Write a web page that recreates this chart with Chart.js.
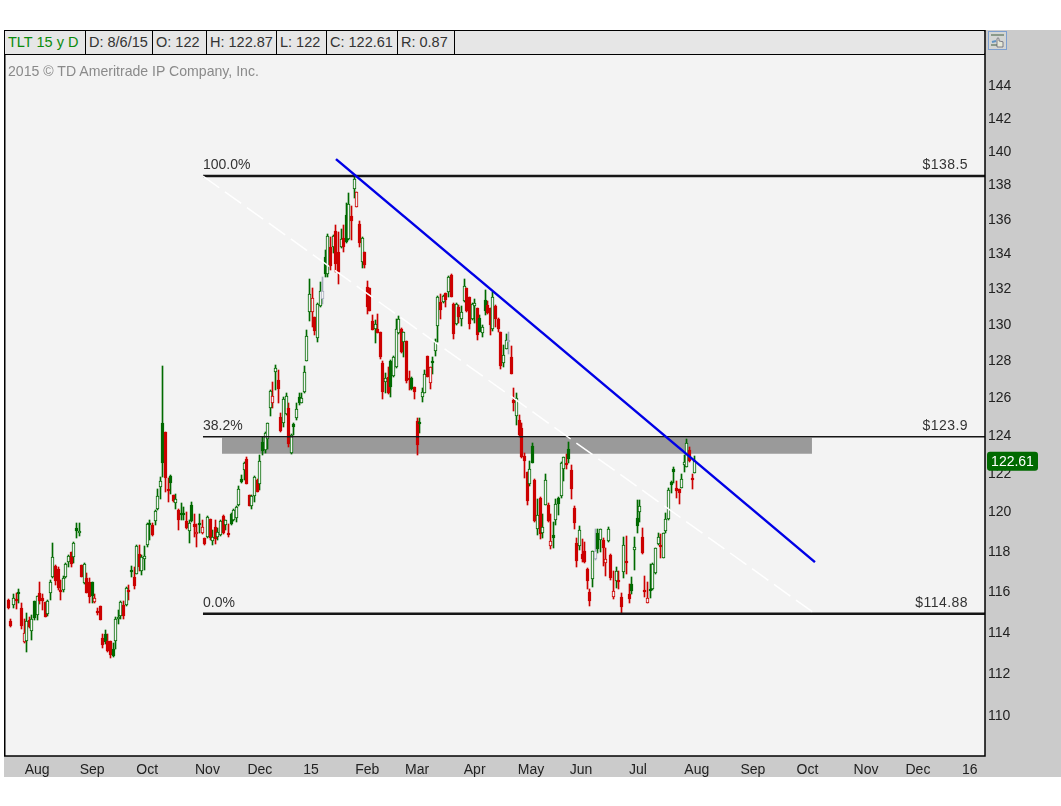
<!DOCTYPE html>
<html>
<head>
<meta charset="utf-8">
<title>TLT</title>
<script src="https://cdn.jsdelivr.net/npm/chart.js@4"></script>
<style>
  html, body { margin: 0; padding: 0; background: #fff; }
  body { width: 1061px; height: 806px; position: relative; overflow: hidden; font-family: "Liberation Sans", Arial, sans-serif; }
  #tlt-chart { position: absolute; left: 0; top: 0; }
  .quote-bar { position: absolute; left: 5px; top: 31px; width: 979px; height: 23px; background: #e6e6e6; display: flex; font-size: 14.5px; line-height: 23px; color: #333; }
  .quote-bar span { border-right: 1px solid #000; padding-left: 3px; box-sizing: border-box; white-space: nowrap; }
  .quote-bar .sym { color: #0a8a0a; }
  .copyright { position: absolute; left: 8px; top: 63px; font-size: 14.1px; color: #8a8a8a; }
  .hand-btn { position: absolute; left: 988px; top: 31px; width: 19px; height: 19px; }
</style>
</head>
<body>
<canvas id="tlt-chart" width="1061" height="806"></canvas>
<div class="quote-bar">
  <span class="sym" style="width:81px">TLT 15 y D</span>
  <span style="width:67px">D: 8/6/15</span>
  <span style="width:54px">O: 122</span>
  <span style="width:70px">H: 122.87</span>
  <span style="width:50px">L: 122</span>
  <span style="width:71px">C: 122.61</span>
  <span style="width:57px">R: 0.87</span>
</div>
<div class="copyright">2015 © TD Ameritrade IP Company, Inc.</div>
<svg class="hand-btn" viewBox="0 0 19 19">
  <rect x="0.5" y="0.5" width="18" height="18" fill="#d4d6d4" stroke="#7d9fcf"/>
  <path d="M3 4h13M3 14h6" stroke="#8a9a8a" stroke-width="2"/>
  <path d="M4 11l4-1" stroke="#5f93c4" stroke-width="2"/>
  <path d="M9 15V7.5q1-1.500 2 0V10l4 .8V16H9z" fill="#e6e8d8" stroke="#556"  stroke-width="0.7"/>
</svg>
<script>
// daily bars, oldest first
const opens = [
  115.54,114.51,115.30,115.59,115.93,115.15,113.48,113.55,114.56,114.03,
  115.49,114.80,115.92,115.67,115.43,114.85,115.92,116.70,117.25,117.09,
  116.07,116.03,116.70,117.44,117.94,117.71,119.14,118.92,117.29,116.40,
  116.62,116.42,116.43,115.46,115.00,115.28,113.69,113.87,113.55,113.55,
  113.18,113.55,114.61,114.75,115.30,115.31,116.04,117.04,116.67,116.85,
  117.84,117.00,117.61,118.31,119.44,119.31,119.53,120.14,121.28,124.61,
  124.15,121.19,121.82,120.85,120.45,120.07,119.95,119.95,119.51,118.99,
  120.33,119.36,118.89,119.42,118.89,118.63,118.70,119.61,118.50,119.19,
  118.72,118.82,119.80,119.32,118.90,119.90,119.56,119.66,120.35,121.66,
  122.13,122.73,120.85,120.29,120.80,121.62,121.45,123.63,123.20,123.80,
  125.45,125.68,127.39,126.94,124.96,124.61,125.09,125.46,123.05,124.57,
  124.89,126.00,125.71,126.31,127.99,130.70,130.70,130.38,129.22,131.04,
  131.43,133.77,132.82,134.35,134.35,135.29,134.06,134.35,134.87,136.21,
  134.83,136.16,137.76,136.70,135.67,133.53,134.06,132.07,132.01,130.16,
  129.72,129.74,129.55,127.85,126.85,127.09,127.99,127.18,127.66,129.50,
  129.72,129.04,129.07,127.03,127.03,126.54,124.74,124.70,126.00,126.25,
  128.25,126.76,128.00,128.54,129.91,131.24,131.24,131.77,131.82,132.79,
  131.11,130.01,130.98,130.27,131.32,132.01,131.50,130.27,131.04,130.93,
  130.33,129.53,131.34,131.08,130.89,129.72,131.04,130.29,129.59,127.85,
  128.63,129.14,128.17,125.86,125.02,124.79,124.35,122.89,122.06,121.42,
  123.41,121.63,119.12,120.68,118.92,120.35,120.33,118.26,118.79,119.56,
  120.71,120.80,122.18,122.52,123.24,122.15,120.19,118.38,118.24,117.84,
  117.99,117.09,115.93,116.57,117.57,118.89,118.55,118.55,117.37,118.51,
  117.82,115.70,116.50,116.55,115.70,116.95,117.48,115.84,116.33,118.07,
  119.65,120.00,118.73,116.05,115.38,116.08,116.10,116.87,118.35,118.28,
  117.67,119.02,119.60,121.52,122.18,121.20,121.16,121.23,122.44,122.32,123.20,121.76,122.00
];
const closes = [
  115.15,114.28,115.67,115.51,115.85,114.28,113.95,114.54,114.21,114.64,
  114.67,115.77,115.49,115.49,114.72,115.51,116.43,117.72,116.50,116.13,
  115.98,116.62,117.32,117.74,117.34,118.40,118.99,119.02,116.69,117.35,
  115.92,115.70,115.77,115.67,114.90,114.56,113.35,113.50,113.06,112.85,
  112.82,114.61,114.72,115.43,114.77,116.15,116.00,116.92,116.23,118.24,
  117.20,117.71,117.77,119.39,119.36,118.82,120.05,120.78,121.60,122.53,
  121.74,121.07,121.49,120.54,120.67,119.56,119.90,119.88,119.17,119.44,
  119.53,119.22,118.97,119.31,119.19,118.34,119.75,118.63,118.72,118.61,
  118.94,119.50,118.89,119.56,118.80,119.39,120.10,120.22,121.19,121.53,
  122.50,121.45,120.29,120.80,121.80,121.01,122.60,123.16,124.11,124.61,
  126.34,126.07,127.62,126.47,124.21,125.89,126.07,123.51,123.98,124.43,
  125.36,125.68,125.95,127.37,129.35,131.67,131.45,129.61,131.13,131.86,
  131.84,132.82,134.98,133.28,134.98,133.41,132.96,134.81,134.37,134.67,
  136.84,135.88,138.31,137.54,134.62,134.87,133.36,130.98,130.76,129.68,
  130.00,129.53,128.21,126.27,127.03,126.22,126.54,128.21,129.72,130.29,
  128.49,129.55,126.90,126.94,126.43,126.31,123.46,124.66,126.31,127.25,
  127.12,127.63,127.95,129.04,131.54,130.80,131.58,131.36,132.67,131.50,
  129.46,131.11,130.39,130.70,132.16,130.76,130.01,131.13,131.17,129.41,
  129.59,129.83,130.76,130.61,129.95,131.50,130.29,129.72,127.70,128.28,
  129.13,129.10,127.26,125.72,125.95,123.99,122.85,122.64,120.56,122.18,
  122.53,119.51,119.85,118.86,119.19,121.63,119.51,118.50,118.67,120.38,
  120.40,122.50,122.81,122.48,122.71,121.15,119.43,117.49,119.04,117.61,
  117.45,116.48,115.49,117.99,117.99,118.11,119.09,118.13,117.59,119.11,
  116.65,115.98,116.99,116.50,115.21,118.28,117.43,115.61,116.00,118.18,
  119.28,120.31,117.90,116.00,115.66,116.00,117.32,118.13,118.72,118.23,
  118.89,119.60,121.09,121.38,122.06,121.08,120.94,121.66,122.55,123.55,122.64,121.63,122.61
];
const highs = [
  115.62,114.61,115.87,115.92,116.08,115.38,114.64,114.89,114.72,114.80,
  115.49,115.77,116.42,115.87,115.43,115.54,116.54,118.40,117.30,117.20,
  116.54,116.74,117.37,117.79,117.97,118.46,119.42,119.44,117.29,117.39,
  116.87,116.62,116.43,115.87,115.18,115.28,113.90,114.07,113.90,113.55,
  113.47,114.72,115.05,115.48,115.49,116.20,116.28,117.24,117.17,118.29,
  118.29,117.79,118.24,119.44,119.59,119.44,120.10,121.19,121.80,127.70,
  124.15,121.74,121.88,120.85,120.93,120.16,120.42,120.24,119.98,119.56,
  120.50,119.86,119.39,119.90,119.56,118.67,119.76,119.61,119.05,119.56,
  119.14,119.56,119.83,119.59,119.39,119.95,120.16,120.28,121.31,121.88,
  122.59,122.81,120.88,120.85,121.83,121.66,122.94,123.90,124.17,124.65,
  126.40,126.85,127.75,127.48,125.14,126.04,126.22,125.68,124.07,124.61,
  125.68,126.22,126.22,127.70,129.68,132.52,132.01,130.42,131.17,132.35,
  132.67,134.19,135.12,134.96,135.06,135.63,135.25,135.38,135.63,136.90,
  137.48,136.74,138.57,137.58,135.86,134.92,134.10,132.43,132.01,130.52,
  130.24,130.57,129.55,127.97,127.30,127.66,128.03,128.25,130.27,130.46,
  129.77,129.59,129.07,127.43,127.12,126.54,124.88,124.88,126.49,127.48,
  128.25,127.67,128.18,129.17,131.58,131.67,131.63,131.77,132.73,132.85,
  131.17,131.17,131.08,131.02,132.54,132.01,131.50,131.17,131.39,130.93,
  130.52,129.99,131.92,131.32,130.89,131.82,131.08,130.33,129.59,128.85,
  129.46,129.59,128.80,126.49,126.22,125.06,124.61,123.03,122.06,122.62,
  123.59,121.68,120.63,120.73,119.87,121.92,120.42,119.87,119.46,120.63,
  120.76,122.55,122.85,123.01,123.62,122.41,120.28,118.63,119.29,118.58,
  118.46,117.12,116.12,117.99,119.11,119.11,119.11,118.63,118.13,119.23,
  117.87,116.99,117.20,116.99,115.90,118.72,118.75,116.37,116.67,118.72,
  120.59,120.59,119.17,116.72,116.45,117.34,117.37,118.16,118.89,118.84,
  118.92,119.91,121.20,121.59,122.29,121.58,121.16,121.97,122.94,123.78,123.34,121.92,122.87
];
const lows = [
  115.13,114.23,115.18,115.10,115.41,114.13,113.45,113.00,114.18,113.61,
  114.59,114.59,115.36,115.05,114.72,114.75,115.54,116.64,116.28,116.07,
  115.54,115.97,116.62,117.20,117.20,117.41,118.67,118.75,116.69,116.37,
  115.90,115.41,115.41,115.41,114.80,114.56,113.21,113.42,113.03,112.74,
  112.79,113.16,114.39,114.64,114.64,115.26,115.57,116.67,116.10,116.82,
  117.00,116.79,117.04,118.18,118.55,118.75,119.31,120.10,120.66,121.80,
  121.01,120.50,120.90,120.50,120.16,119.05,119.56,119.56,119.09,118.41,
  119.48,118.72,118.21,118.89,118.85,118.29,118.63,118.55,118.29,118.34,
  118.55,118.77,118.85,119.05,118.72,119.31,119.53,119.48,120.29,121.48,
  121.62,121.42,120.28,120.16,120.52,121.00,121.11,122.94,123.02,123.27,
  125.00,125.41,126.40,125.71,124.16,124.43,125.05,123.37,122.98,123.98,
  124.79,125.59,125.68,126.22,127.97,130.20,129.86,129.41,129.04,130.98,
  131.13,132.67,132.67,133.05,134.00,132.96,132.26,134.29,134.10,134.58,
  134.77,134.77,137.23,136.70,134.35,133.15,133.15,130.57,130.76,129.68,
  128.98,129.50,128.08,125.93,126.22,126.16,126.00,127.12,127.62,129.46,
  128.39,128.21,126.79,126.40,126.40,125.93,122.94,124.11,125.77,126.22,
  127.09,126.47,127.26,128.25,129.04,130.29,131.17,130.98,131.50,131.50,
  129.18,129.95,130.05,129.92,131.26,130.70,129.74,130.24,130.05,129.13,
  129.55,129.31,130.52,130.57,129.41,129.64,129.86,129.59,127.52,127.63,
  128.62,128.36,127.26,125.29,124.52,123.90,122.77,121.72,120.33,121.32,
  122.50,119.48,118.80,118.60,118.67,120.33,119.48,118.11,118.16,119.31,
  119.82,120.68,121.58,122.18,122.54,120.64,119.12,117.21,118.07,117.45,
  117.37,116.08,115.25,116.20,117.54,117.91,117.96,117.25,116.75,118.46,
  116.54,115.62,116.15,116.12,114.89,116.62,116.83,115.38,115.87,117.04,
  118.92,119.48,117.84,115.70,115.38,115.66,116.03,116.84,118.29,117.66,
  117.66,118.89,119.56,120.94,121.46,120.68,120.38,121.20,122.06,122.29,122.55,121.16,122.00
];
// G green, R red, A the few grey bars
const tones = (
  "RRGRGRRGRG" + "GGRRRGGGRR" + "RGGGRGGGRG" + "RRGRRRRGRR" + "GGGGRGRGRG" +
  "RGGGGRGGGG" + "RRGRGRGGRG" + "GRRGRRGRGR" + "GGRGRGGGGG" + "GRRGGRGGGG" +
  "GRGRRGGRGG" + "GGGGGGRRGG" + "AGGRGRRGRG" + "GRGRRGRRRR" + "GRRRGRGGGG" +
  "RGRRGRRGGG" + "RRGGGRGRGR" + "RGRGGRRGGR" + "GGGRRGRRRG" + "GARRGRRRRG" +
  "GRGRGGRRGG" + "GGGRGRRRGR" + "RRRGAGGRRG" + "RRGRRGRRGG" + "GGRRRGGGGR" +
  "GGGGGRRGGGRRG"
).split("");

// axis ticks
const priceTicks = [110,112,114,116,118,120,122,124,126,128,130,132,134,136,138,140,142,144];
const monthTicks = [11,32,53,76,96,115.5,137,156,178,199.5,218.6,240.3,262.8,284.2,305,327.4,347.2,367];
const monthLabels = ["Aug","Sep","Oct","Nov","Dec","15","Feb","Mar","Apr","May","Jun","Jul","Aug","Sep","Oct","Nov","Dec","16"];

// drawing tools on top of the bars
const fibPrices = [138.5, 123.9, 114.88];
const fibPercents = ["100.0%", "38.2%", "0.0%"];
const fibPriceLabels = ["$138.5", "$123.9", "$114.88"];
const fibStart = 74.3;
const trendX = [125.06, 307.9];
const trendPrices = [139.51, 117.44];
const fanX = [74.3, 307.9];
const fanPrices = [138.5, 114.88];
const bandX = [81.55, 306.75];
const bandPrices = [123.85, 123.0];

const X_MIN = -1.27, X_MAX = 372.8;
const lastClose = closes[closes.length - 1];

const COLORS = { G: "#006a00", R: "#cc0000", A: "#a3abbb" };
const PLOT_BG = "#f3f3f3";
const FONT = '"Liberation Sans", Arial, sans-serif';

function barColor(ctx) { return COLORS[tones[ctx.dataIndex]]; }
function bodyFill(ctx) {
  const i = ctx.dataIndex;
  return closes[i] > opens[i] ? PLOT_BG : COLORS[tones[i]];
}
function hline(y, width, order) {
  return {
    type: "line", order,
    data: [{ x: fibStart, y }, { x: X_MAX, y }],
    borderColor: "#151515", borderWidth: width, pointRadius: 0
  };
}

// panel, plot background and frame
const framePlugin = {
  id: "frame",
  beforeDraw(chart) {
    const c = chart.ctx, a = chart.chartArea;
    c.save();
    c.fillStyle = "#cbcbcb";
    c.fillRect(4, 30, 1057, 747);
    c.fillStyle = PLOT_BG;
    c.fillRect(a.left, a.top, a.right - a.left, a.bottom - a.top);
    c.restore();
  },
  afterDraw(chart) {
    const c = chart.ctx, a = chart.chartArea;
    c.save();
    c.strokeStyle = "#000";
    c.lineWidth = 1.5;
    c.strokeRect(4.75, 30.75, a.right - 4.75, a.bottom - 30.75);
    c.beginPath();
    c.moveTo(4.75, 54.25);
    c.lineTo(a.right, 54.25);
    c.stroke();

    // last price tag
    const y = chart.scales.y.getPixelForValue(lastClose);
    c.fillStyle = "#006a00";
    c.beginPath();
    c.roundRect(987, y - 9.5, 51, 19, 3);
    c.fill();
    c.fillStyle = "#fff";
    c.font = "14px " + FONT;
    c.textAlign = "center";
    c.textBaseline = "middle";
    c.fillText(lastClose.toFixed(2), 1012.5, y + 0.5);
    c.restore();
  }
};

// keep bars on whole pixels so the candles stay crisp
const snapPlugin = {
  id: "snap",
  beforeDatasetDraw(chart, args) {
    if (args.meta.type !== "bar") return;
    const minH = args.index === 0 ? 2 : 1;
    args.meta.data.forEach(el => {
      const top = Math.round(Math.min(el.y, el.base));
      let bottom = Math.round(Math.max(el.y, el.base));
      if (bottom - top < minH) bottom = top + minH;
      el.x = Math.floor(el.x) + 0.5;
      el.y = top;
      el.base = bottom;
    });
  }
};

// percent and price captions sitting on the fib lines
const fibLabelPlugin = {
  id: "fibLabels",
  afterDatasetsDraw(chart) {
    const c = chart.ctx, sx = chart.scales.x, sy = chart.scales.y;
    c.save();
    c.fillStyle = "#333";
    c.font = "14px " + FONT;
    c.textBaseline = "alphabetic";
    fibPrices.forEach((p, i) => {
      const y = sy.getPixelForValue(p) - 7;
      c.letterSpacing = "0px";
      c.textAlign = "left";
      c.fillText(fibPercents[i], sx.getPixelForValue(fibStart), y);
      c.letterSpacing = "0.45px";
      c.textAlign = "right";
      c.fillText(fibPriceLabels[i], 968, y);
    });
    c.restore();
  }
};

const indices = opens.map((_, i) => i);

new Chart(document.getElementById("tlt-chart"), {
  type: "bar",
  data: {
    datasets: [
      {
        label: "body", order: 4, grouped: false, barThickness: 3,
        data: indices.map(i => ({ x: i, y: [opens[i], closes[i]] })),
        backgroundColor: bodyFill, borderColor: barColor, borderWidth: 1, borderSkipped: false
      },
      {
        label: "wick", order: 5, grouped: false, barThickness: 1,
        data: indices.map(i => ({ x: i, y: [lows[i], highs[i]] })),
        backgroundColor: barColor, borderWidth: 0
      },
      {
        label: "band", type: "line", order: 6,
        data: bandX.map(x => ({ x, y: bandPrices[0] })),
        borderWidth: 0, pointRadius: 0,
        fill: { value: bandPrices[1] }, backgroundColor: "#9a9a9a"
      },
      hline(fibPrices[0], 2.5, 3),
      hline(fibPrices[1], 1.5, 3),
      hline(fibPrices[2], 2.5, 3),
      {
        label: "fan", type: "line", order: 1,
        data: fanX.map((x, i) => ({ x, y: fanPrices[i] })),
        borderColor: "#ffffff", borderWidth: 1.5, borderDash: [20, 7], pointRadius: 0
      },
      {
        label: "trend", type: "line", order: 0,
        data: trendX.map((x, i) => ({ x, y: trendPrices[i] })),
        borderColor: "#0000e6", borderWidth: 2.5, pointRadius: 0
      }
    ]
  },
  options: {
    responsive: false,
    animation: false,
    layout: { padding: { left: 5, top: 54, right: 0, bottom: 29 } },
    plugins: { legend: { display: false }, tooltip: { enabled: false } },
    scales: {
      x: {
        type: "linear", min: X_MIN, max: X_MAX, offset: false,
        grid: { display: false, drawTicks: false }, border: { display: false },
        afterBuildTicks(s) { s.ticks = monthTicks.map(value => ({ value })); },
        afterFit(s) { s.height = 21; },
        ticks: {
          autoSkip: false, maxRotation: 0, padding: 6, color: "#222",
          font: { family: FONT, size: 14 },
          callback: (v, i) => monthLabels[i]
        }
      },
      y: {
        type: "logarithmic", position: "right", min: 108.1, max: 145.92,
        grid: { display: false, drawTicks: false }, border: { display: false },
        afterBuildTicks(s) { s.ticks = priceTicks.map(value => ({ value })); },
        afterFit(s) { s.width = 76; },
        ticks: {
          autoSkip: false, padding: 3, color: "#222", labelOffset: 1,
          font: { family: FONT, size: 14 },
          callback: v => String(v)
        }
      }
    }
  },
  plugins: [framePlugin, snapPlugin, fibLabelPlugin]
});
</script>
</body>
</html>
